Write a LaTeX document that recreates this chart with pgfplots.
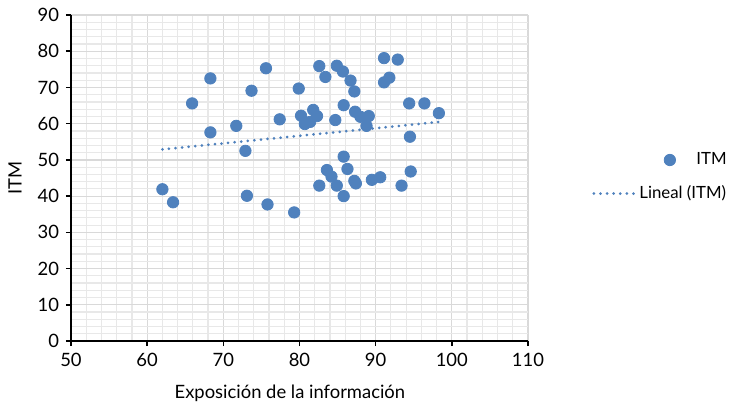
\documentclass[border=0pt]{standalone}
\usepackage{pgfplots}
\pgfplotsset{compat=1.18}
\usepackage{fontspec}
\setmainfont{Lato}
\definecolor{ptblue}{HTML}{4F81BD}
\definecolor{gridmaj}{HTML}{D9D9D9}
\definecolor{gridmin}{HTML}{E8E8E8}
\begin{document}
\begin{tikzpicture}[font=\fontsize{9.2}{11}\selectfont]
\begin{axis}[
  at={(0,0)}, anchor=south west,
  width=228.5pt, height=163pt, scale only axis,
  xmin=50, xmax=110, xtick={50,60,...,110},
  ymin=0, ymax=90, ytick={0,10,...,90},
  minor x tick num=4, minor y tick num=4,
  grid=both,
  major grid style={gridmaj, line width=0.6pt},
  minor grid style={gridmin, line width=0.6pt},
  axis x line*=bottom, axis y line*=left,
  axis line style={black, line width=1pt, -},
  tick align=outside,
  major tick length=2.5pt, minor tick length=0pt,
  tick style={black, line width=0.8pt},
  /pgf/number format/assume math mode=true,
  xlabel={Exposición de la información},
  ylabel={ITM},
  xlabel style={at={(axis description cs:0.479,-0.16)}, anchor=center},
  ylabel style={at={(axis description cs:-0.1225,0.5)}, anchor=center, rotate=0},
  reverse legend,
  legend style={draw=none, fill=none, at={(axis description cs:1.140,0.503)}, anchor=west,
    inner sep=0pt, row sep=5pt, cells={anchor=west}, font=\fontsize{8.4}{10}\selectfont},
]
% linea de tendencia
\addplot[ptblue, line width=1.5pt, line cap=round, dash pattern=on 0pt off 3.3pt,
  legend image code/.code={\draw[ptblue, line width=1.5pt, line cap=round, dash pattern=on 0pt off 3.3pt] (0pt,0pt) -- (20pt,0pt);}]
  coordinates {(62.0,52.9) (98.4,60.5)};
\addlegendentry{Lineal (ITM)}
% datos
\addplot[only marks, mark=*, mark size=2.85pt, mark options={fill=ptblue, draw=ptblue},
  legend image code/.code={\path[overlay] plot[only marks, mark=*, mark size=2.85pt, mark options={fill=ptblue, draw=ptblue}] coordinates {(38pt,0pt)};}]
  table {
x y
62.0 41.9
63.4 38.3
65.9 65.6
68.3 72.5
68.3 57.6
71.7 59.4
72.9 52.5
73.7 69.1
73.1 40.1
75.6 75.3
75.8 37.7
77.4 61.2
79.9 69.7
79.3 35.5
80.2 62.2
80.7 59.9
81.4 60.5
81.8 63.8
82.3 62.1
82.6 75.9
83.4 72.9
84.9 76.0
85.7 74.4
86.7 71.9
87.2 68.9
91.1 78.1
92.9 77.7
91.1 71.4
91.8 72.7
85.8 65.1
84.7 61.0
87.3 63.3
88.0 61.9
89.1 62.1
88.8 59.4
94.4 65.6
96.4 65.6
98.3 62.9
94.5 56.4
85.8 50.9
86.3 47.5
83.6 47.2
84.2 45.4
82.6 42.9
84.9 42.9
87.2 44.2
87.4 43.5
85.8 40.0
89.5 44.5
90.6 45.2
93.4 42.9
94.6 46.8
};
\addlegendentry{\hspace*{28.5pt}ITM}
\end{axis}
\pgfresetboundingbox
\path[use as bounding box] (-35.5pt,-31.5pt) rectangle (329.5pt,170.5pt);
\end{tikzpicture}
\end{document}
